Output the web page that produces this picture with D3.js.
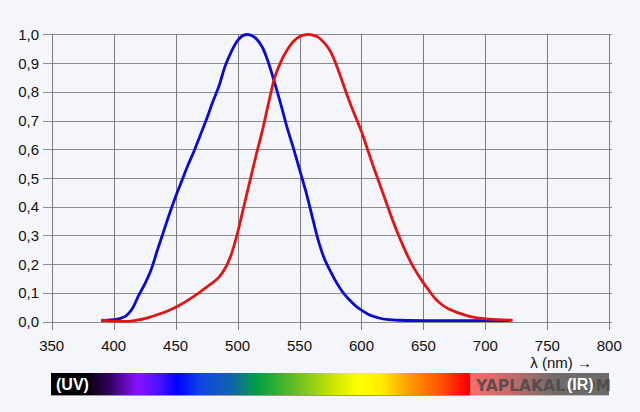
<!DOCTYPE html>
<html><head><meta charset="utf-8">
<script src="https://cdn.jsdelivr.net/npm/d3@7"></script>
<style>
html,body{margin:0;padding:0;background:#f5f6fb;}
svg{display:block;font-family:"Liberation Sans",Arial,sans-serif;}
</style></head>
<body>
<svg id="c" width="640" height="412"></svg>
<script>
// Scotopic (blue) curve
const blueLambda = [390,395,400,405,410,415,420,425,430,435,440,445,450,455,460,465,470,475,480,485,490,495,500,505,510,515,520,525,530,535,540,545,550,555,560,565,570,575,580,585,590,595,600,605,610,615,620,625,630,650,720];
const blueValue  = [0.004,0.005,0.007,0.011,0.02,0.045,0.09,0.13,0.178,0.245,0.31,0.375,0.435,0.49,0.545,0.595,0.65,0.705,0.765,0.82,0.89,0.94,0.978,0.997,0.998,0.985,0.955,0.9,0.83,0.755,0.675,0.605,0.53,0.455,0.37,0.285,0.22,0.175,0.135,0.102,0.077,0.056,0.04,0.027,0.018,0.012,0.008,0.006,0.005,0.004,0.004];
// Photopic (red) curve
const redLambda = [390,395,400,405,410,415,420,425,430,435,440,445,450,455,460,465,470,475,480,485,490,495,500,505,510,515,520,525,530,535,540,545,550,555,560,565,570,575,580,585,590,595,600,605,610,615,620,625,630,635,640,645,650,655,660,665,670,675,680,685,690,695,700,710,722];
const redValue  = [0.005,0.003,0.002,0.001,0.001,0.003,0.006,0.011,0.017,0.024,0.031,0.04,0.05,0.062,0.075,0.089,0.104,0.12,0.136,0.155,0.186,0.235,0.31,0.4,0.49,0.58,0.665,0.76,0.85,0.905,0.945,0.975,0.992,0.999,0.998,0.99,0.97,0.94,0.89,0.83,0.77,0.715,0.662,0.598,0.535,0.475,0.415,0.355,0.3,0.25,0.205,0.168,0.135,0.105,0.078,0.059,0.045,0.036,0.028,0.021,0.016,0.012,0.01,0.007,0.005];

const xTicks = [350,400,450,500,550,600,650,700,750,800];
const yTicks = [0,0.1,0.2,0.3,0.4,0.5,0.6,0.7,0.8,0.9,1.0];
const yTickLabels = ["0,0","0,1","0,2","0,3","0,4","0,5","0,6","0,7","0,8","0,9","1,0"];
const xAxisTitle = "λ (nm) →";
const uvLabel = "(UV)", irLabel = "(IR)", watermark = "YAPLAKAL.COM";

const svg = d3.select("#c");
const x = d3.scaleLinear().domain([350,800]).range([51.7,609.3]);
const y = d3.scaleLinear().domain([0,1]).range([321.7,34.3]);

svg.append("rect").attr("width",640).attr("height",412).attr("fill","#f5f6fb");

// grid
const g = svg.append("g");
g.selectAll("line.h").data(yTicks).join("line")
  .attr("x1",43).attr("x2",612)
  .attr("y1",d=>Math.round(y(d))+0.5).attr("y2",d=>Math.round(y(d))+0.5)
  .attr("stroke","#8c8c8c").attr("stroke-width",1.2);
g.selectAll("line.v").data(xTicks).join("line")
  .attr("x1",d=>Math.round(x(d))+0.5).attr("x2",d=>Math.round(x(d))+0.5)
  .attr("y1",34).attr("y2",330)
  .attr("stroke","#7c7c7c").attr("stroke-width",1);

// tick labels
svg.selectAll("text.yl").data(yTicks).join("text")
  .attr("x",39).attr("y",d=>y(d)+5.5)
  .attr("text-anchor","end").attr("font-size",15).attr("fill","#111")
  .text((d,i)=>yTickLabels[i]);
svg.selectAll("text.xl").data(xTicks).join("text")
  .attr("x",d=>x(d)).attr("y",351)
  .attr("text-anchor","middle").attr("font-size",15).attr("fill","#111")
  .text(d=>d);
svg.append("text").attr("x",592).attr("y",368).attr("text-anchor","end")
  .attr("font-size",15).attr("fill","#111").text(xAxisTitle);

// curves
const line = d3.line().x(d=>x(d[0])).y(d=>y(d[1])).curve(d3.curveCatmullRom.alpha(0.5));
svg.append("path").datum(blueLambda.map((l,i)=>[l,blueValue[i]]))
  .attr("d",line).attr("fill","none").attr("stroke","#0a0ad2").attr("stroke-width",2.8).attr("stroke-linejoin","round");
svg.append("path").datum(redLambda.map((l,i)=>[l,redValue[i]]))
  .attr("d",line).attr("fill","none").attr("stroke","#e31414").attr("stroke-width",2.8).attr("stroke-linejoin","round");

// spectrum bar
const defs = svg.append("defs");
const grad = defs.append("linearGradient").attr("id","spec").attr("x1","0").attr("x2","1").attr("y1","0").attr("y2","0");
const stops = [[0,"#000000"],[0.06,"#000000"],[0.1,"#2a0050"],[0.155,"#8a10ff"],[0.2,"#4010ff"],[0.225,"#0000ff"],[0.27,"#1048e0"],[0.32,"#1060b0"],[0.37,"#00a040"],[0.445,"#70c020"],[0.51,"#d0e800"],[0.55,"#ffff00"],[0.59,"#fff000"],[0.64,"#ffa000"],[0.7,"#ff5000"],[0.745,"#ff0000"],[0.82,"#a00000"],[0.9,"#100000"],[1,"#000000"]];
grad.selectAll("stop").data(stops).join("stop").attr("offset",d=>d[0]).attr("stop-color",d=>d[1]);
svg.append("rect").attr("x",51).attr("y",373).attr("width",558).attr("height",22).attr("fill","url(#spec)");
svg.append("line").attr("x1",51).attr("x2",609).attr("y1",395.5).attr("y2",395.5).attr("stroke","#9a9a9a").attr("stroke-width",1);

// watermark
svg.append("rect").attr("x",470).attr("y",373).attr("width",143).attr("height",23).attr("fill","#ffffff").attr("opacity",0.42);
svg.append("text").attr("x",476).attr("y",391).attr("font-family","'DejaVu Sans','Liberation Sans',sans-serif").attr("font-weight","bold")
  .attr("font-size",16).attr("fill","#4a4a4a").attr("opacity",0.85).attr("textLength",135).attr("lengthAdjust","spacingAndGlyphs").text(watermark);

svg.append("text").attr("x",56).attr("y",390).attr("font-size",16).attr("font-weight","bold").attr("fill","#fff").text(uvLabel);
svg.append("text").attr("x",567).attr("y",390).attr("font-size",16).attr("font-weight","bold").attr("fill","#fff").text(irLabel);
</script>
</body></html>
